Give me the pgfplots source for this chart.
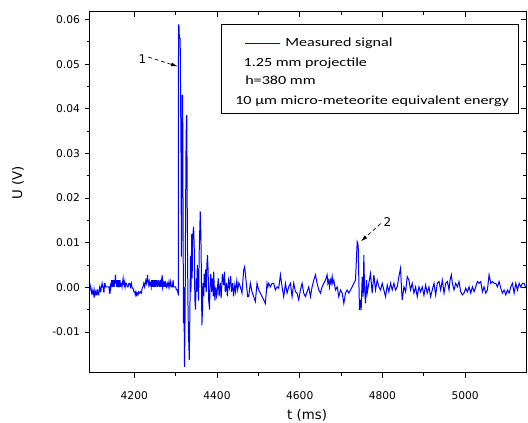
\documentclass[border=0pt]{standalone}
\usepackage{pgfplots}
\pgfplotsset{compat=1.18}
\usepackage{pgfplotstable}
\usepackage{fontspec}
\setmainfont{DejaVu Sans}
\newfontfamily\legfont[FakeStretch=1.3]{Carlito}
\usetikzlibrary{arrows.meta}
\definecolor{sig}{RGB}{0,0,255}

\pgfplotstableread{
t v
4093 0.0008
4094.5 -0.0002
4095 -0.0006
4097 -0.0013
4098 -0.0006
4099 -0.0013
4100.5 -0.0010
4102 -0.0017
4103 -0.0006
4104.5 -0.0017
4106 -0.0010
4107.5 -0.0017
4108.6 -0.0017
4110 -0.0006
4111 -0.0006
4112.5 -0.0017
4114.2 -0.0017
4115 -0.0006
4116.6 0.0001
4118 -0.0010
4119.1 -0.0010
4120.5 0.0001
4122.3 0.0009
4123.5 0.0001
4124.7 0.0001
4126 -0.0010
4127.1 -0.0010
4128 0.0009
4129 0.0009
4131 0.0001
4133 0.0001
4135 0.0001
4137 0.0001
4139 0.0001
4140 -0.0013
4141.5 -0.0013
4142.5 0.0009
4143.5 0.0001
4144.5 0.0009
4145.5 0.0016
4146.5 0.0001
4147.5 0.0016
4148.5 0.0001
4149.5 0.0016
4150.5 0.0001
4151.5 0.0016
4152.5 0.0009
4153.5 0.0016
4154.6 0.0028
4155.5 0.0009
4156.5 0.0016
4157.5 0.0001
4158.5 0.0016
4159.5 0.0009
4160.5 0.0016
4161.5 0.0001
4162.7 0.0001
4163.5 0.0016
4164.5 0.0009
4165.5 0.0016
4166.5 0.0001
4167.5 0.0009
4169 0.0009
4170.5 0.0001
4171.5 0.0009
4173 0.0020
4174 0.0009
4175.5 0.0005
4177 0.0013
4178 0.0001
4179.5 0.0009
4181 0.0009
4183 0.0001
4185 0.0001
4187 0.0009
4189 0.0009
4191 0.0001
4193 0.0009
4195 -0.0002
4197 -0.0002
4199 -0.0010
4201 -0.0010
4202.5 -0.0017
4204 -0.0010
4205.5 -0.0017
4207 -0.0013
4209 -0.0017
4211 -0.0010
4213 -0.0013
4215 -0.0010
4217.5 -0.0013
4219 -0.0002
4221 0.0001
4223 0.0009
4225 0.0001
4226.5 0.0009
4228 0.0016
4229.5 0.0009
4231 0.0016
4232 0.0028
4233.5 0.0013
4235 0.0005
4236.5 0.0013
4238 0.0005
4239.5 0.0009
4241 0.0001
4242 0.0016
4243 0.0001
4244 0.0016
4245 0.0001
4246 0.0016
4247 0.0001
4248 0.0009
4249 0.0016
4250 0.0001
4251 0.0016
4252 0.0001
4253 0.0016
4254 0.0005
4255 0.0016
4256 0.0001
4257 0.0013
4258 0.0005
4259 0.0016
4260 0.0001
4261 0.0013
4262 0.0001
4263 0.0016
4264 0.0001
4265 0.0013
4266 0.0009
4267.5 0.0028
4268.5 0.0001
4270 0.0009
4271 0.0001
4272 0.0013
4273 0.0001
4274 0.0013
4275 0.0001
4276 0.0009
4278 0.0001
4280 0.0009
4282 0.0001
4284 0.0013
4286 0.0001
4288 0.0013
4290 0.0001
4292 0.0001
4294 0.0016
4295 0.0001
4296 0.0001
4298 0.0001
4300 0.0001
4302 -0.0006
4304 -0.0006
4305.5 -0.0013
4306.5 -0.0015
4307 0.0588
4308 0.0588
4309 0.0560
4310.5 0.0558
4311 0.0558
4312 0.0430
4313 0.0300
4314 0.0069
4315 0.0250
4316 0.0430
4317 0.0430
4318 0.0150
4319 -0.0080
4320 0.0000
4321.5 -0.0178
4323 -0.0050
4324 0.0150
4325 0.0300
4326 0.0380
4327 0.0386
4328.5 0.0100
4330 -0.0050
4331 -0.0100
4333 -0.0163
4334.5 -0.0050
4336 0.0070
4337 -0.0010
4339 0.0120
4340 0.0020
4341 0.0110
4343.5 0.0136
4345 0.0090
4346.5 -0.0027
4348 -0.0050
4350 0.0020
4351 -0.0010
4352.5 0.0050
4354 0.0010
4355.5 -0.0030
4357 0.0080
4359.5 0.0170
4361 0.0120
4362 0.0050
4363.5 -0.0085
4365 -0.0050
4366 0.0010
4368 -0.0020
4369 0.0030
4371 0.0000
4372.5 0.0040
4374 -0.0010
4375.5 0.0050
4377 0.0072
4378.5 0.0040
4380 -0.0030
4382 -0.0050
4383 0.0000
4385 0.0030
4387 -0.0010
4389 0.0020
4391 -0.0020
4392 0.0035
4393 0.0010
4395 -0.0030
4397 0.0000
4399 -0.0020
4400 -0.0015
4403 0.0020
4405 -0.0020
4408 0.0010
4410 -0.0025
4413 0.0030
4416 0.0005
4418 0.0035
4420 -0.0010
4423 0.0010
4425 -0.0020
4428 0.0015
4430 0.0000
4433 0.0025
4435 -0.0010
4438 0.0010
4440 -0.0020
4443 0.0005
4445 -0.0010
4448 0.0015
4450 -0.0005
4453 0.0010
4456.4 0.0001
4460.4 -0.0013
4464.5 0.0039
4466.9 0.0046
4470.9 0.0009
4474.2 -0.0021
4476.6 -0.0021
4480.6 0.0009
4484.6 -0.0010
4488.7 -0.0021
4492.7 -0.0032
4496.8 0.0009
4500.8 -0.0006
4504.8 -0.0013
4508.9 -0.0021
4512.9 -0.0028
4516.9 -0.0036
4521 0.0009
4523 0.0001
4525 0.0009
4529 0.0001
4533.1 0.0009
4537.1 0.0009
4541.1 -0.0006
4545.2 0.0001
4549.2 -0.0002
4553.3 0.0028
4557.3 0.0001
4561.3 -0.0021
4565.4 0.0009
4569.4 -0.0013
4573.4 0.0001
4577.5 0.0009
4581.5 -0.0021
4585.5 0.0009
4589.6 -0.0010
4593.6 -0.0013
4597.6 -0.0028
4601.7 -0.0006
4605.7 0.0009
4609.7 -0.0013
4613.8 -0.0021
4617.8 -0.0010
4621.9 0.0001
4625.9 -0.0021
4629.9 0.0001
4634 0.0016
4638 0.0028
4642 0.0009
4646.1 -0.0006
4650.1 -0.0013
4654.1 0.0001
4658.2 0.0009
4662.2 0.0016
4666.2 0.0028
4668 0.0009
4670.3 0.0016
4672 0.0001
4674.3 0.0016
4676 0.0009
4678.4 0.0024
4680 0.0009
4682.4 0.0016
4686.4 -0.0006
4690.5 0.0001
4694.5 -0.0021
4698.5 -0.0006
4702.6 -0.0013
4706.6 -0.0036
4710.6 -0.0013
4714.7 -0.0006
4718.7 -0.0013
4722.7 -0.0006
4726.8 0.0001
4730.8 0.0009
4734.8 0.0016
4738.9 0.0102
4741.3 0.0095
4742.9 0.0016
4744.5 -0.0051
4746.9 -0.0028
4748.5 -0.0051
4751 0.0024
4753.4 -0.0021
4755 0.0072
4756.6 0.0001
4759 -0.0036
4761.5 0.0016
4763.1 -0.0013
4767.1 0.0009
4771.1 0.0031
4775.2 -0.0013
4779.2 0.0028
4783.2 -0.0006
4787.3 0.0016
4791.3 0.0001
4795.4 -0.0006
4799.4 0.0009
4803.4 -0.0006
4807.5 -0.0021
4811.5 0.0005
4815.5 -0.0010
4819.6 0.0009
4823.6 -0.0006
4827.6 0.0009
4831.7 -0.0006
4835.7 0.0001
4839.7 0.0024
4843.8 0.0043
4846.2 -0.0006
4847.8 -0.0028
4851.9 0.0001
4855.9 -0.0010
4859.9 0.0024
4864 0.0016
4868 -0.0006
4872 0.0009
4876.1 -0.0013
4880.1 0.0001
4884.1 -0.0021
4888.2 0.0001
4892.2 -0.0010
4896.2 0.0001
4900.3 -0.0018
4904.3 0.0005
4908.3 -0.0013
4912.4 0.0001
4916.4 -0.0021
4918.5 -0.0013
4920.5 -0.0006
4924.6 0.0009
4928.6 -0.0017
4932.6 0.0009
4936.7 0.0013
4940.7 -0.0006
4944.7 0.0016
4948.8 -0.0013
4952.8 0.0009
4956.9 0.0013
4960.9 -0.0006
4963.3 0.0016
4966.5 0.0028
4969 0.0009
4973 -0.0006
4977 0.0009
4981.1 0.0001
4985.1 0.0013
4989.1 -0.0010
4993.2 -0.0017
4997.2 -0.0013
5001.2 -0.0002
5005.3 -0.0010
5009.3 0.0001
5013.4 -0.0013
5017.4 0.0001
5021.4 -0.0010
5025.5 0.0001
5029.5 0.0013
5033.5 0.0009
5037.6 0.0013
5041.6 -0.0010
5045.6 0.0001
5049.7 -0.0013
5053.7 -0.0006
5057.7 0.0028
5061.8 0.0009
5065.8 0.0013
5069.8 0.0009
5073.9 0.0009
5077.9 0.0001
5081.9 0.0013
5086 -0.0002
5090 -0.0013
5094.1 -0.0006
5098.1 -0.0017
5102.1 -0.0006
5106.2 -0.0013
5110.2 0.0001
5114.2 0.0009
5118.3 -0.0013
5122.3 0.0009
5126.3 -0.0006
5130.4 0.0009
5134.4 0.0001
5138.4 0.0009
5142.5 0.0009
5146.5 -0.0002
}\signal

\begin{document}
\begin{tikzpicture}
\pgfplotsset{
  frame/.style={
    width=327pt, height=270.75pt, scale only axis,
    xmin=4093, xmax=5147, ymin=-0.0192, ymax=0.0617,
    xtick={4200,4400,4600,4800,5000}, minor x tick num=1,
    ytick={-0.01,0,0.01,0.02,0.03,0.04,0.05,0.06}, minor y tick num=1,
    scaled ticks=false,
    major tick length=4pt, minor tick length=2.5pt,
    axis line style={line width=0.75pt},
    every tick/.style={black, line width=0.6pt},
  }
}
\begin{axis}[frame,
  tick align=outside, xtick pos=left, ytick pos=left,
  /pgf/number format/assume math mode=true,
  ticklabel style={font=\fontsize{8}{9}\selectfont},
  yticklabel style={/pgf/number format/.cd, fixed, fixed zerofill, precision=2},
  xticklabel style={/pgf/number format/set thousands separator={}, yshift=-6.5pt},
  xlabel={t (ms)}, ylabel={U (V)},
  label style={font=\fontsize{10}{12}\selectfont},
  xlabel style={at={(axis description cs:0.498,-0.117)}, anchor=center},
  ylabel style={at={(axis description cs:-0.165,0.526)}, anchor=center},
]
\addplot[sig, line width=0.75pt] table[x=t, y=v] {\signal};

\node[font=\fontsize{9}{10}\selectfont] at (axis cs:4220,0.0512) {1};
\draw[densely dashed, line width=0.5pt, -{Latex[length=5pt,width=3pt]}]
  (axis cs:4234,0.0516) -- (axis cs:4305,0.0495);
\node[font=\fontsize{9}{10}\selectfont] at (axis cs:4812,0.0147) {2};
\draw[densely dashed, line width=0.5pt, -{Latex[length=5pt,width=3pt]}]
  (axis cs:4796,0.0143) -- (axis cs:4748,0.0103);
\end{axis}

\begin{axis}[frame,
  tick align=inside, xtick pos=right, ytick pos=right,
  xticklabel=\empty, yticklabel=\empty,
]
\end{axis}

% legend box
\draw[line width=0.75pt] (98.25pt,194.25pt) rectangle (321pt,261pt);
\draw[sig, line width=0.7pt] (116.25pt,247.5pt) -- (142.5pt,247.5pt);
\begin{scope}[every node/.style={inner sep=0pt, anchor=base west, font=\legfont\fontsize{9.3}{11}\selectfont}]
\node at (146.25pt,244.6pt) {Measured signal};
\node at (115pt,229.6pt) {1.25 mm projectile};
\node at (116.25pt,216.1pt) {h=380 mm};
\node at (108.75pt,201.1pt) {10 µm micro-meteorite equivalent energy};
\end{scope}

\pgfresetboundingbox
\useasboundingbox (-67.5pt,-37.5pt) rectangle (328.5pt,279.75pt);
\end{tikzpicture}
\end{document}
